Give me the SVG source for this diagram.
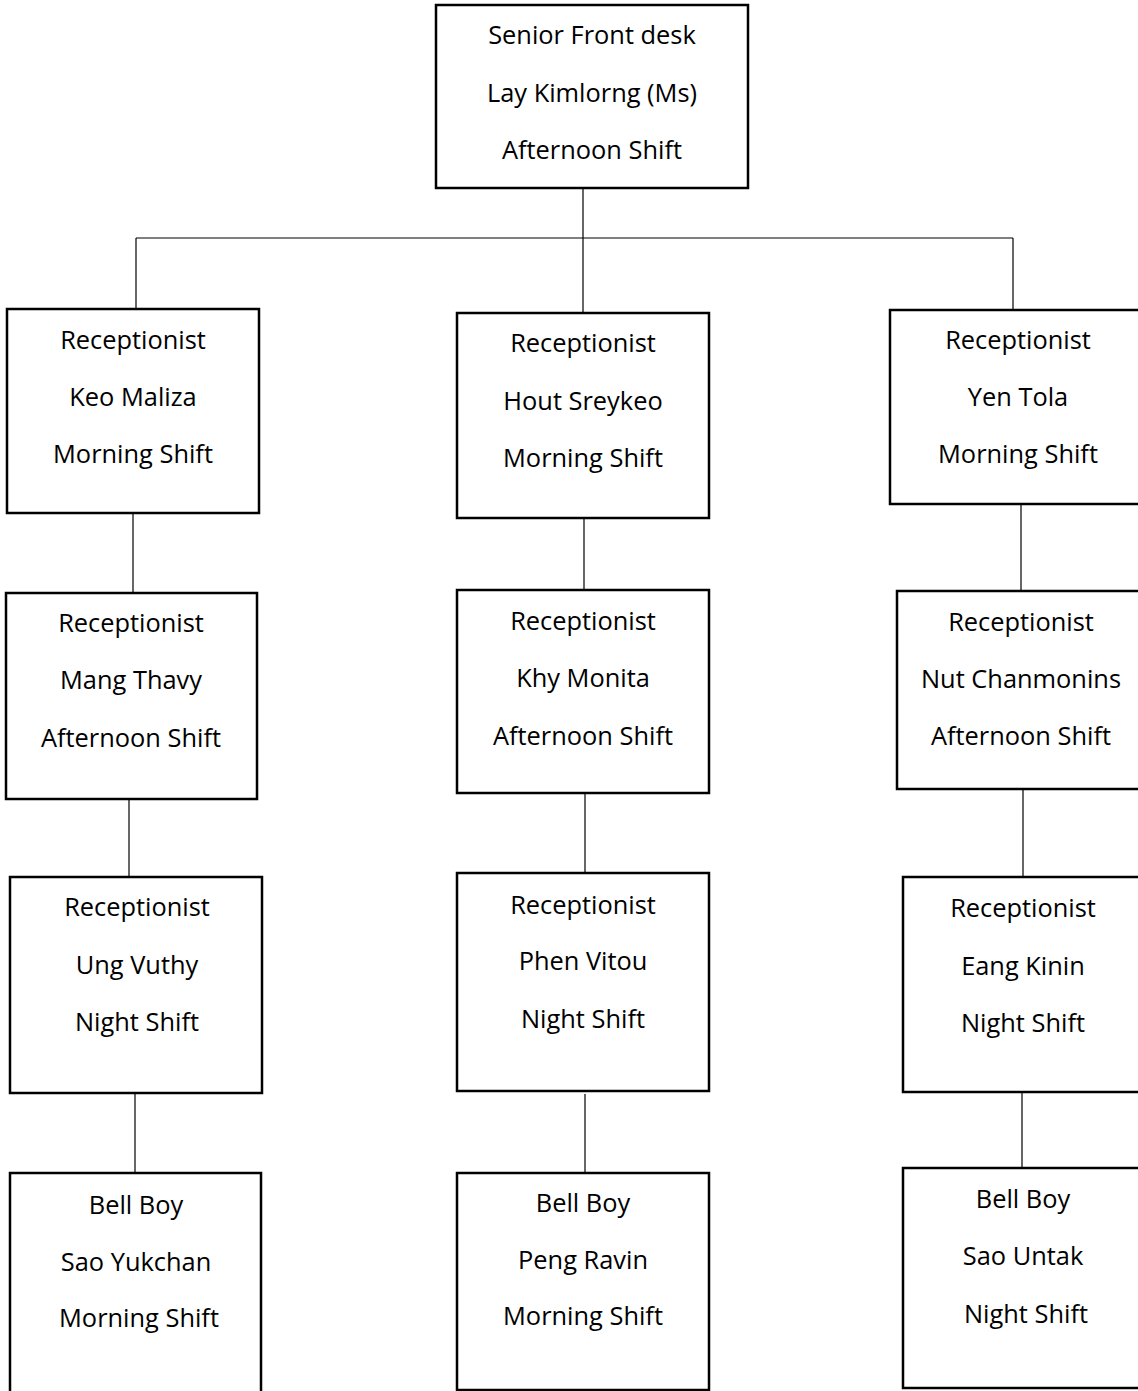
<svg xmlns="http://www.w3.org/2000/svg" width="1138" height="1391" viewBox="0 0 1138 1391">
<style>
.box{fill:#fff;stroke:#000;stroke-width:2.5}
.t{font-family:"Open Sans","Noto Sans",sans-serif;font-size:25.4px;fill:#000;text-anchor:middle}
.c line{stroke:#000;stroke-width:1.2}
</style>
<rect width="1138" height="1391" fill="#fff"/>
<g class="c" id="connectors">
<line x1="583" y1="188" x2="583" y2="313"/>
<line x1="136" y1="238" x2="1013" y2="238"/>
<line x1="136" y1="238" x2="136" y2="309"/>
<line x1="1013" y1="238" x2="1013" y2="310"/>
<line x1="133" y1="513" x2="133" y2="593"/>
<line x1="584" y1="514" x2="584" y2="590"/>
<line x1="1021" y1="504" x2="1021" y2="591"/>
<line x1="129" y1="799" x2="129" y2="877"/>
<line x1="585" y1="793" x2="585" y2="873"/>
<line x1="1023" y1="789" x2="1023" y2="877"/>
<line x1="135" y1="1093" x2="135" y2="1173"/>
<line x1="585" y1="1094" x2="585" y2="1173"/>
<line x1="1022" y1="1090" x2="1022" y2="1168"/>
</g>
<g id="n-top"><rect class="box" x="436" y="5" width="312" height="183"/>
<text class="t" x="592" y="44">Senior Front desk</text><text class="t" x="592" y="102">Lay Kimlorng (Ms)</text><text class="t" x="592" y="159">Afternoon Shift</text></g>
<g id="n-r1-left"><rect class="box" x="7" y="309" width="252" height="204"/>
<text class="t" x="133" y="349">Receptionist</text><text class="t" x="133" y="406">Keo Maliza</text><text class="t" x="133" y="463">Morning Shift</text></g>
<g id="n-r1-mid"><rect class="box" x="457" y="313" width="252" height="205"/>
<text class="t" x="583" y="352">Receptionist</text><text class="t" x="583" y="410">Hout Sreykeo</text><text class="t" x="583" y="467">Morning Shift</text></g>
<g id="n-r1-right"><rect class="box" x="890" y="310" width="255" height="194"/>
<text class="t" x="1018" y="349">Receptionist</text><text class="t" x="1018" y="406">Yen Tola</text><text class="t" x="1018" y="463">Morning Shift</text></g>
<g id="n-r2-left"><rect class="box" x="6" y="593" width="251" height="206"/>
<text class="t" x="131" y="632">Receptionist</text><text class="t" x="131" y="689">Mang Thavy</text><text class="t" x="131" y="747">Afternoon Shift</text></g>
<g id="n-r2-mid"><rect class="box" x="457" y="590" width="252" height="203"/>
<text class="t" x="583" y="630">Receptionist</text><text class="t" x="583" y="687">Khy Monita</text><text class="t" x="583" y="745">Afternoon Shift</text></g>
<g id="n-r2-right"><rect class="box" x="897" y="591" width="248" height="198"/>
<text class="t" x="1021" y="631">Receptionist</text><text class="t" x="1021" y="688">Nut Chanmonins</text><text class="t" x="1021" y="745">Afternoon Shift</text></g>
<g id="n-r3-left"><rect class="box" x="10" y="877" width="252" height="216"/>
<text class="t" x="137" y="916">Receptionist</text><text class="t" x="137" y="974">Ung Vuthy</text><text class="t" x="137" y="1031">Night Shift</text></g>
<g id="n-r3-mid"><rect class="box" x="457" y="873" width="252" height="218"/>
<text class="t" x="583" y="914">Receptionist</text><text class="t" x="583" y="970">Phen Vitou</text><text class="t" x="583" y="1028">Night Shift</text></g>
<g id="n-r3-right"><rect class="box" x="903" y="877" width="242" height="215"/>
<text class="t" x="1023" y="917">Receptionist</text><text class="t" x="1023" y="975">Eang Kinin</text><text class="t" x="1023" y="1032">Night Shift</text></g>
<g id="n-b-left"><rect class="box" x="10" y="1173" width="251" height="230"/>
<text class="t" x="136" y="1214">Bell Boy</text><text class="t" x="136" y="1271">Sao Yukchan</text><text class="t" x="139" y="1327">Morning Shift</text></g>
<g id="n-b-mid"><rect class="box" x="457" y="1173" width="252" height="217"/>
<text class="t" x="583" y="1212">Bell Boy</text><text class="t" x="583" y="1269">Peng Ravin</text><text class="t" x="583" y="1325">Morning Shift</text></g>
<g id="n-b-right"><rect class="box" x="903" y="1168" width="242" height="220"/>
<text class="t" x="1023" y="1208">Bell Boy</text><text class="t" x="1023" y="1265">Sao Untak</text><text class="t" x="1026" y="1323">Night Shift</text></g>
</svg>
